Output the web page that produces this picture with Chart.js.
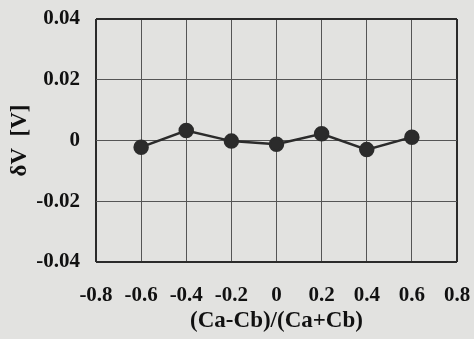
<!DOCTYPE html>
<html>
<head>
    <title>dV vs capacitance ratio</title>
    <script src="https://cdn.jsdelivr.net/npm/chart.js@4.4.0/dist/chart.umd.min.js"></script>
    <style>
        body { margin: 0; background: #e2e2e0; }
        canvas { display: block; }
    </style>
</head>
<body>
    <canvas id="myChart" width="474" height="339"></canvas>
    <script>
        // measured points
        var ratio = [-0.6, -0.4, -0.2, 0, 0.2, 0.4, 0.6];
        var deltaV = [-0.0022, 0.0033, -0.0002, -0.0012, 0.0022, -0.003, 0.0011];

        // tick labels, ascending
        var xTickLabels = ['-0.8', '-0.6', '-0.4', '-0.2', '0', '0.2', '0.4', '0.6', '0.8'];
        var yTickLabels = ['-0.04', '-0.02', '0', '0.02', '0.04'];

        var ink = '#2b2b2b';
        var gridInk = '#555555';
        var serifFamily = '"Liberation Serif", "Times New Roman", serif';
        var tickFont = { family: serifFamily, weight: 'bold', size: 21 };
        var titleFont = { family: serifFamily, weight: 'bold', size: 23 };

        var points = ratio.map(function (x, i) { return { x: x, y: deltaV[i] }; });

        // edge lines of the frame are a bit heavier than the inner grid
        function edgeWidth(count) {
            return function (ctx) {
                return (ctx.index === 0 || ctx.index === count - 1) ? 2 : 1;
            };
        }
        function edgeColor(count) {
            return function (ctx) {
                return (ctx.index === 0 || ctx.index === count - 1) ? ink : gridInk;
            };
        }

        var ctx = document.getElementById('myChart').getContext('2d');
        var myChart = new Chart(ctx, {
            type: 'line',
            data: {
                datasets: [{
                    data: points,
                    borderColor: ink,
                    backgroundColor: ink,
                    borderWidth: 2.5,
                    pointRadius: 6.5,
                    pointBackgroundColor: ink,
                    pointBorderColor: ink,
                    tension: 0,
                    fill: false
                }]
            },
            options: {
                responsive: false,
                animation: false,
                layout: { padding: { left: 0, right: 17, top: 19, bottom: 0 } },
                plugins: { legend: { display: false }, tooltip: { enabled: false } },
                scales: {
                    x: {
                        type: 'linear',
                        min: -0.8,
                        max: 0.8,
                        afterFit: function (s) {
                            s.height = 77;
                            s.paddingLeft = 0;
                            s.paddingRight = 0;
                        },
                        ticks: {
                            stepSize: 0.2,
                            padding: 21,
                            color: '#111',
                            font: tickFont,
                            maxRotation: 0,
                            autoSkip: false,
                            callback: function (v, i) { return xTickLabels[i]; }
                        },
                        grid: {
                            drawTicks: false,
                            color: edgeColor(xTickLabels.length),
                            lineWidth: edgeWidth(xTickLabels.length)
                        },
                        border: { display: false },
                        title: {
                            display: true,
                            text: '(Ca-Cb)/(Ca+Cb)',
                            color: '#111',
                            font: titleFont,
                            padding: { top: 3 }
                        }
                    },
                    y: {
                        min: -0.04,
                        max: 0.04,
                        afterFit: function (s) {
                            s.width = 96;
                            s.paddingTop = 0;
                            s.paddingBottom = 0;
                        },
                        ticks: {
                            stepSize: 0.02,
                            padding: 16,
                            color: '#111',
                            font: tickFont,
                            callback: function (v, i) { return yTickLabels[i]; }
                        },
                        grid: {
                            drawTicks: false,
                            color: edgeColor(yTickLabels.length),
                            lineWidth: edgeWidth(yTickLabels.length)
                        },
                        border: { display: false },
                        title: {
                            display: true,
                            text: '\u03b4V  [V]',
                            color: '#111',
                            font: titleFont,
                            padding: { top: 6 }
                        }
                    }
                }
            }
        });
    </script>
</body>
</html>
